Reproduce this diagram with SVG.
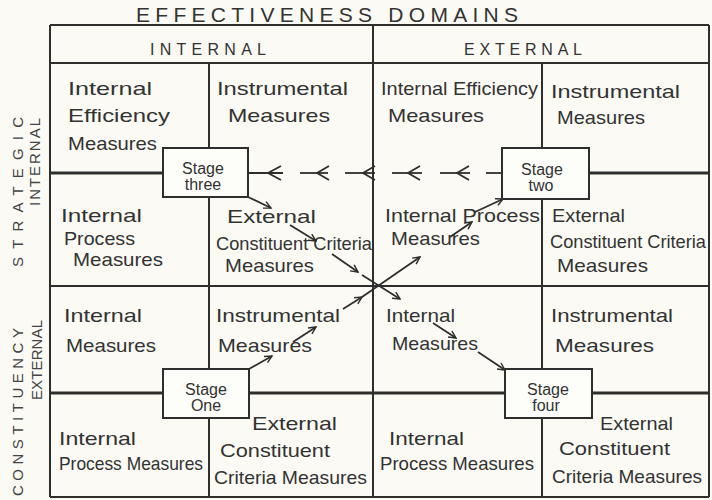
<svg xmlns="http://www.w3.org/2000/svg" width="712" height="500" viewBox="0 0 712 500">
<defs>
<style>
.bg{fill:#fbfaf5}
.ln{stroke:#2e2e2e;stroke-width:2;fill:none}
.thk{stroke:#2e2e2e;stroke-width:3;fill:none}
.t{font-family:"Liberation Sans",Arial,sans-serif;font-size:19px;fill:#333}
.h{font-family:"Liberation Sans",Arial,sans-serif;font-size:16px;fill:#333}
.ti{font-family:"Liberation Sans",Arial,sans-serif;font-size:21px;fill:#333}
.s{font-family:"Liberation Sans",Arial,sans-serif;font-size:16px;fill:#333;text-anchor:middle}
.side{font-family:"Liberation Sans",Arial,sans-serif;font-size:15px;fill:#444;text-anchor:middle}
.box{fill:#fdfdfa;stroke:#2e2e2e;stroke-width:2}
.ar{stroke:#2e2e2e;stroke-width:1.8;fill:none;marker-end:url(#ah)}
.cl{stroke:#2e2e2e;stroke-width:1.8;fill:none}
</style>
<marker id="ah" viewBox="0 0 10 10" refX="9" refY="5" markerWidth="9" markerHeight="9" markerUnits="userSpaceOnUse" orient="auto">
<path d="M1,1 L9,5 L1,9" fill="none" stroke="#2e2e2e" stroke-width="1.6"/>
</marker>
</defs>
<rect class="bg" x="0" y="0" width="712" height="500"/>

<g id="title">
<text class="ti" x="136" y="22" textLength="382" lengthAdjust="spacing">EFFECTIVENESS DOMAINS</text>
<text class="h" x="150" y="55" textLength="116" lengthAdjust="spacing">INTERNAL</text>
<text class="h" x="464" y="55" textLength="118" lengthAdjust="spacing">EXTERNAL</text>
</g>

<g id="side-labels">
<text class="side" transform="translate(23,192) rotate(-90)" textLength="150" lengthAdjust="spacing">STRATEGIC</text>
<text class="side" transform="translate(40,162) rotate(-90)" textLength="88" lengthAdjust="spacing">INTERNAL</text>
<text class="side" transform="translate(23,412) rotate(-90)" textLength="168" lengthAdjust="spacing">CONSTITUENCY</text>
<text class="side" transform="translate(42,360) rotate(-90)" textLength="80" lengthAdjust="spacing">EXTERNAL</text>
</g>

<g id="grid">
<line class="ln" x1="50" y1="25" x2="709" y2="25"/>
<line class="ln" x1="50" y1="63" x2="709" y2="63"/>
<line class="thk" x1="50" y1="173" x2="163" y2="173"/>
<line class="thk" x1="589" y1="173" x2="709" y2="173"/>
<line class="ln" x1="50" y1="286" x2="709" y2="286"/>
<line class="thk" x1="50" y1="393" x2="163" y2="393"/>
<line class="thk" x1="249" y1="393" x2="505" y2="393"/>
<line class="thk" x1="592" y1="393" x2="709" y2="393"/>
<line class="ln" x1="50" y1="497" x2="709" y2="497"/>
<line class="ln" x1="50" y1="25" x2="50" y2="497"/>
<line class="ln" x1="373" y1="25" x2="373" y2="497"/>
<line class="ln" x1="709" y1="25" x2="709" y2="497"/>
<line class="ln" x1="209" y1="63" x2="209" y2="497"/>
<line class="ln" x1="542" y1="63" x2="542" y2="497"/>
</g>

<g id="cells">
<text class="t" x="68" y="95" textLength="84" lengthAdjust="spacingAndGlyphs">Internal</text>
<text class="t" x="68" y="122" textLength="102" lengthAdjust="spacingAndGlyphs">Efficiency</text>
<text class="t" x="68" y="150" textLength="89" lengthAdjust="spacingAndGlyphs">Measures</text>
<text class="t" x="217" y="95" textLength="131" lengthAdjust="spacingAndGlyphs">Instrumental</text>
<text class="t" x="228" y="122" textLength="102" lengthAdjust="spacingAndGlyphs">Measures</text>
<text class="t" x="381" y="95" textLength="157" lengthAdjust="spacingAndGlyphs">Internal Efficiency</text>
<text class="t" x="388" y="122" textLength="96" lengthAdjust="spacingAndGlyphs">Measures</text>
<text class="t" x="551" y="98" textLength="129" lengthAdjust="spacingAndGlyphs">Instrumental</text>
<text class="t" x="557" y="124" textLength="88" lengthAdjust="spacingAndGlyphs">Measures</text>

<text class="t" x="61" y="222" textLength="81" lengthAdjust="spacingAndGlyphs">Internal</text>
<text class="t" x="64" y="245" textLength="71" lengthAdjust="spacingAndGlyphs">Process</text>
<text class="t" x="73" y="266" textLength="90" lengthAdjust="spacingAndGlyphs">Measures</text>
<text class="t" x="227" y="223" textLength="89" lengthAdjust="spacingAndGlyphs">External</text>
<text class="t" x="216" y="250" textLength="156" lengthAdjust="spacingAndGlyphs">Constituent Criteria</text>
<text class="t" x="225" y="272" textLength="89" lengthAdjust="spacingAndGlyphs">Measures</text>
<text class="t" x="385" y="222" textLength="155" lengthAdjust="spacingAndGlyphs">Internal Process</text>
<text class="t" x="391" y="245" textLength="89" lengthAdjust="spacingAndGlyphs">Measures</text>
<text class="t" x="552" y="222" textLength="73" lengthAdjust="spacingAndGlyphs">External</text>
<text class="t" x="550" y="248" textLength="156" lengthAdjust="spacingAndGlyphs">Constituent Criteria</text>
<text class="t" x="557" y="272" textLength="91" lengthAdjust="spacingAndGlyphs">Measures</text>

<text class="t" x="64" y="322" textLength="78" lengthAdjust="spacingAndGlyphs">Internal</text>
<text class="t" x="66" y="352" textLength="90" lengthAdjust="spacingAndGlyphs">Measures</text>
<text class="t" x="216" y="322" textLength="124" lengthAdjust="spacingAndGlyphs">Instrumental</text>
<text class="t" x="218" y="352" textLength="94" lengthAdjust="spacingAndGlyphs">Measures</text>
<text class="t" x="386" y="322" textLength="69" lengthAdjust="spacingAndGlyphs">Internal</text>
<text class="t" x="392" y="350" textLength="86" lengthAdjust="spacingAndGlyphs">Measures</text>
<text class="t" x="551" y="322" textLength="122" lengthAdjust="spacingAndGlyphs">Instrumental</text>
<text class="t" x="555" y="352" textLength="99" lengthAdjust="spacingAndGlyphs">Measures</text>

<text class="t" x="59" y="445" textLength="77" lengthAdjust="spacingAndGlyphs">Internal</text>
<text class="t" x="59" y="470" textLength="144" lengthAdjust="spacingAndGlyphs">Process Measures</text>
<text class="t" x="252" y="430" textLength="85" lengthAdjust="spacingAndGlyphs">External</text>
<text class="t" x="220" y="457" textLength="110" lengthAdjust="spacingAndGlyphs">Constituent</text>
<text class="t" x="214" y="484" textLength="153" lengthAdjust="spacingAndGlyphs">Criteria Measures</text>
<text class="t" x="389" y="445" textLength="75" lengthAdjust="spacingAndGlyphs">Internal</text>
<text class="t" x="380" y="470" textLength="154" lengthAdjust="spacingAndGlyphs">Process Measures</text>
<text class="t" x="600" y="430" textLength="73" lengthAdjust="spacingAndGlyphs">External</text>
<text class="t" x="559" y="455" textLength="111" lengthAdjust="spacingAndGlyphs">Constituent</text>
<text class="t" x="552" y="483" textLength="150" lengthAdjust="spacingAndGlyphs">Criteria Measures</text>
</g>

<g id="connectors">
<g id="dashed-return">
<line class="cl" x1="248" y1="173" x2="283" y2="173"/>
<line class="cl" x1="300" y1="173" x2="328" y2="173"/>
<line class="cl" x1="345" y1="173" x2="375" y2="173"/>
<line class="cl" x1="392" y1="173" x2="422" y2="173"/>
<line class="cl" x1="440" y1="173" x2="470" y2="173"/>
<line class="cl" x1="486" y1="173" x2="502" y2="173"/>
<path class="cl" d="M281,166 L268,173 L281,180"/>
<path class="cl" d="M329,166 L317,173 L329,180"/>
<path class="cl" d="M375,166 L363,173 L375,180"/>
<path class="cl" d="M420,166 L408,173 L420,180"/>
<path class="cl" d="M469,166 L457,173 L469,180"/>
</g>
<line class="ar" x1="248" y1="197" x2="271" y2="208"/>
<line class="ar" x1="290" y1="225" x2="316" y2="241"/>
<line class="ar" x1="332" y1="254" x2="358" y2="272"/>
<line class="ar" x1="362" y1="275" x2="400" y2="299"/>
<line class="ar" x1="433" y1="323" x2="456" y2="338"/>
<line class="ar" x1="478" y1="352" x2="505" y2="370"/>
<line class="ar" x1="249" y1="369" x2="272" y2="356"/>
<line class="ar" x1="293" y1="342" x2="316" y2="327"/>
<line class="ar" x1="343" y1="309" x2="362" y2="297"/>
<line class="ar" x1="362" y1="297" x2="420" y2="257"/>
<line class="ar" x1="450" y1="237" x2="472" y2="222"/>
<line class="ar" x1="475" y1="212" x2="503" y2="199"/>
</g>

<g id="stage-three">
<rect class="box" x="163" y="148" width="85" height="49"/>
<text class="s" x="203" y="174">Stage</text>
<text class="s" x="203" y="190">three</text>
</g>
<g id="stage-two">
<rect class="box" x="502" y="148" width="87" height="51"/>
<text class="s" x="542" y="175">Stage</text>
<text class="s" x="541" y="191">two</text>
</g>
<g id="stage-one">
<rect class="box" x="163" y="369" width="86" height="49"/>
<text class="s" x="206" y="395">Stage</text>
<text class="s" x="206" y="411">One</text>
</g>
<g id="stage-four">
<rect class="box" x="505" y="369" width="87" height="49"/>
<text class="s" x="548" y="395">Stage</text>
<text class="s" x="546" y="411">four</text>
</g>
</svg>
